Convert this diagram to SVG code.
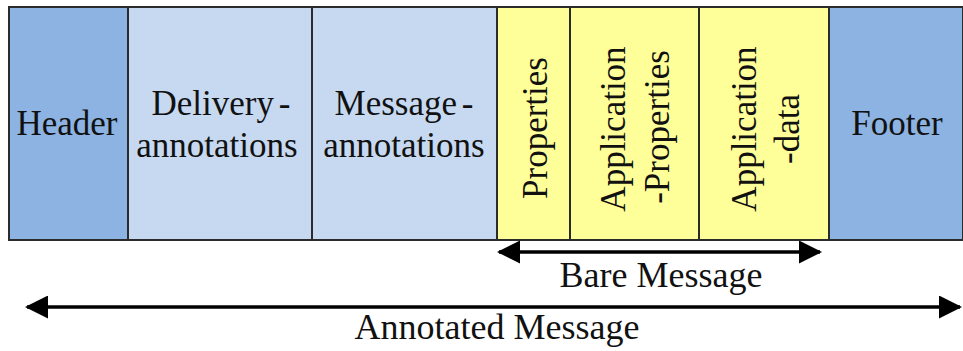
<svg xmlns="http://www.w3.org/2000/svg" width="963" height="351" viewBox="0 0 963 351">
  <style>
    .box { stroke: #2b2b2b; stroke-width: 2; }
    .dark { fill: #8DB3E2; }
    .light { fill: #C6D9F1; }
    .yellow { fill: #FFFF99; }
    .t { font-family: "Liberation Serif", "Times New Roman", serif; font-size: 35px; fill: #111; text-anchor: middle; }
    .hy { word-spacing: -4px; }
    .lbl { font-family: "Liberation Serif", "Times New Roman", serif; font-size: 36px; fill: #111; text-anchor: middle; }
    .arr { stroke: #000; stroke-width: 3.5; fill: none; }
  </style>
  <defs>
    <marker id="head" viewBox="0 0 23 23" refX="21" refY="11.5" markerWidth="23" markerHeight="23" markerUnits="userSpaceOnUse" orient="auto-start-reverse">
      <path d="M0,0 L23,11.5 L0,23 Z" fill="#000"/>
    </marker>
  </defs>
  <rect x="0" y="0" width="963" height="351" fill="#ffffff"/>

  <g id="header">
    <rect class="box dark" x="9" y="7" width="119" height="233"/>
    <text class="t" x="67" y="135">Header</text>
  </g>
  <g id="delivery-annotations">
    <rect class="box light" x="128" y="7" width="184" height="233"/>
    <text class="t hy" x="221" y="115">Delivery -</text>
    <text class="t" x="217" y="157">annotations</text>
  </g>
  <g id="message-annotations">
    <rect class="box light" x="312" y="7" width="185" height="233"/>
    <text class="t hy" x="404" y="115">Message -</text>
    <text class="t" x="404" y="157">annotations</text>
  </g>
  <g id="properties">
    <rect class="box yellow" x="497" y="7" width="73" height="233"/>
    <text class="t" transform="translate(547,128) rotate(-90)" x="0" y="0">Properties</text>
  </g>
  <g id="application-properties">
    <rect class="box yellow" x="570" y="7" width="129" height="233"/>
    <text class="t" transform="translate(625,129) rotate(-90)" x="0" y="0">Application</text>
    <text class="t" transform="translate(669,127) rotate(-90)" x="0" y="0">-Properties</text>
  </g>
  <g id="application-data">
    <rect class="box yellow" x="699" y="7" width="130" height="233"/>
    <text class="t" transform="translate(756,129) rotate(-90)" x="0" y="0">Application</text>
    <text class="t" transform="translate(799,129) rotate(-90)" x="0" y="0">-data</text>
  </g>
  <g id="footer">
    <rect class="box dark" x="829" y="7" width="134" height="233"/>
    <text class="t" x="897" y="135">Footer</text>
  </g>

  <g id="connectors">
    <line class="arr" x1="499" y1="252" x2="820" y2="252" marker-start="url(#head)" marker-end="url(#head)"/>
    <line class="arr" x1="27" y1="307" x2="960" y2="307" marker-start="url(#head)" marker-end="url(#head)"/>
  </g>

  <g id="labels">
    <text class="lbl" x="661" y="287">Bare Message</text>
    <text class="lbl" x="497" y="339">Annotated Message</text>
  </g>
</svg>
